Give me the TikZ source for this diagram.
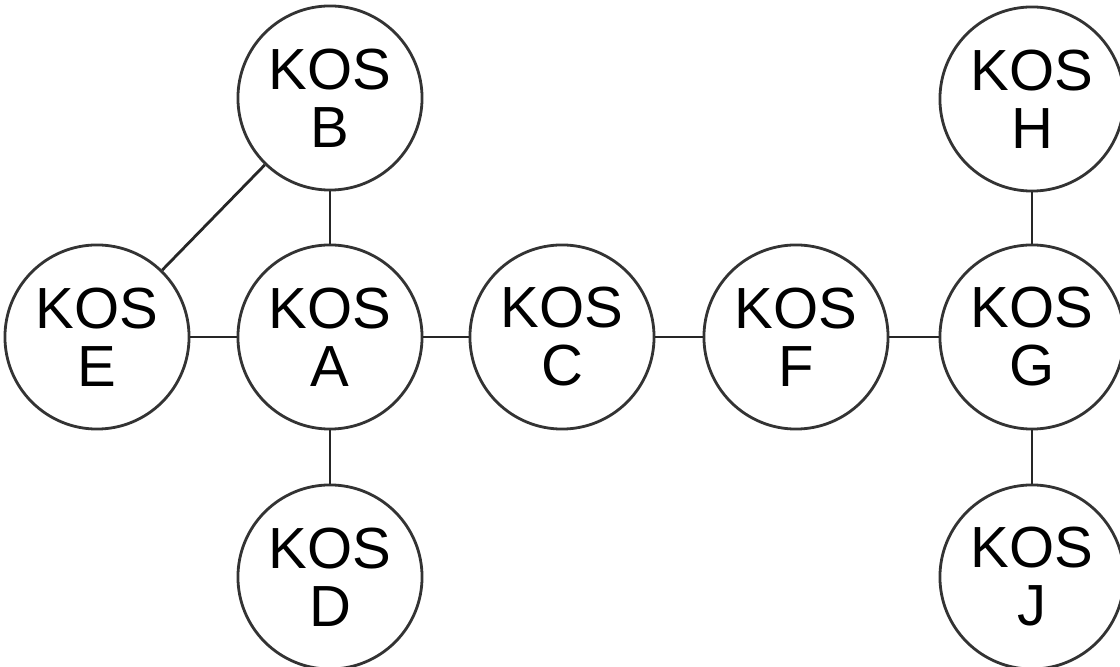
\documentclass[tikz,border=0pt]{standalone}
\usepackage{fontspec}
\setmainfont{Liberation Sans}
\usepackage{tikz}

\begin{document}
\begin{tikzpicture}[x=0.01cm, y=-0.01cm]
        \tikzstyle{every node} = [font=\fontsize{16.5}{16.5}\selectfont]
        \tikzstyle{kos}        = [circle, draw=black!80, line width=0.8pt, inner sep=0pt, minimum size=1.84cm, align=center]
        \tikzstyle{legatura}   = [draw=black!85, line width=0.8pt]

        \useasboundingbox (0,0) rectangle (1120,667);

        % Nodurile din randul din mijloc.
        \node[kos] (E) at (97,337)   {KOS\\E};
        \node[kos] (A) at (330,337)  {KOS\\A};
        \node[kos] (C) at (562,337)  {KOS\\C};
        \node[kos] (F) at (796,337)  {KOS\\F};
        \node[kos] (G) at (1032,337) {KOS\\G};

        % Sus si jos.
        \node[kos] (B) at (330,98)   {KOS\\B};
        \node[kos] (D) at (330,577)  {KOS\\D};
        \node[kos] (H) at (1032,99)  {KOS\\H};
        \node[kos] (J) at (1032,577) {KOS\\J};

        \draw[legatura] (E) -- (A);
        \draw[legatura] (A) -- (C);
        \draw[legatura] (C) -- (F);
        \draw[legatura] (F) -- (G);
        \draw[legatura] (A) -- (B);
        \draw[legatura] (A) -- (D);
        \draw[legatura] (E) -- (B);
        \draw[legatura] (G) -- (H);
        \draw[legatura] (G) -- (J);
\end{tikzpicture}
\end{document}
